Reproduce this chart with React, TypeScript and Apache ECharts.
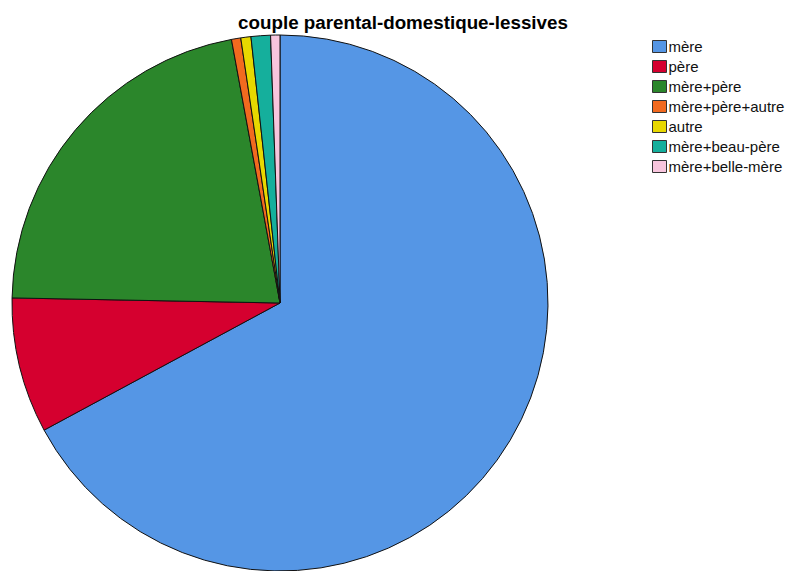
import React, { useEffect, useRef } from "react";
import * as echarts from "echarts";

const categories = [
  "mère",
  "père",
  "mère+père",
  "mère+père+autre",
  "autre",
  "mère+beau-père",
  "mère+belle-mère",
];
const values = [67.14, 8.17, 21.8, 0.56, 0.61, 1.17, 0.56];
const colors = [
  "#5596E5",
  "#D5002F",
  "#2B862B",
  "#F26A1F",
  "#E8D800",
  "#15AF9C",
  "#F8C5DD",
];
const titleText = "couple parental-domestique-lessives";

export default function App() {
  const ref = useRef<HTMLDivElement>(null);
  useEffect(() => {
    if (!ref.current) return;
    const chart = echarts.init(ref.current, undefined, { renderer: "svg" });
    chart.setOption({
      animation: false,
      backgroundColor: "#ffffff",
      title: {
        text: titleText,
        left: 398,
        textAlign: "center",
        top: 8,
        textStyle: {
          fontFamily: "Liberation Sans, Arial, sans-serif",
          fontSize: 18.8,
          fontWeight: "bold",
          color: "#000",
        },
      },
      legend: {
        orient: "vertical",
        left: 647,
        top: 34,
        itemWidth: 14,
        itemHeight: 12,
        itemGap: 5,
        icon: "rect",
        data: categories,
        itemStyle: { borderColor: "#333", borderWidth: 1 },
        textStyle: {
          fontFamily: "Liberation Sans, Arial, sans-serif",
          fontSize: 15,
          lineHeight: 15,
          color: "#111",
          padding: [0, 0, 0, -3],
        },
      },
      series: [
        {
          type: "pie",
          center: [280, 303],
          radius: [0, 268],
          startAngle: 90,
          clockwise: true,
          label: { show: false },
          labelLine: { show: false },
          emphasis: { disabled: true },
          itemStyle: { borderColor: "#111", borderWidth: 1 },
          data: categories.map((name, i) => ({
            name,
            value: values[i],
            itemStyle: { color: colors[i] },
          })),
        },
      ],
    });
    return () => chart.dispose();
  }, []);
  return <div ref={ref} style={{ width: 788, height: 571, position: "absolute", left: 0, top: 0 }} />;
}
